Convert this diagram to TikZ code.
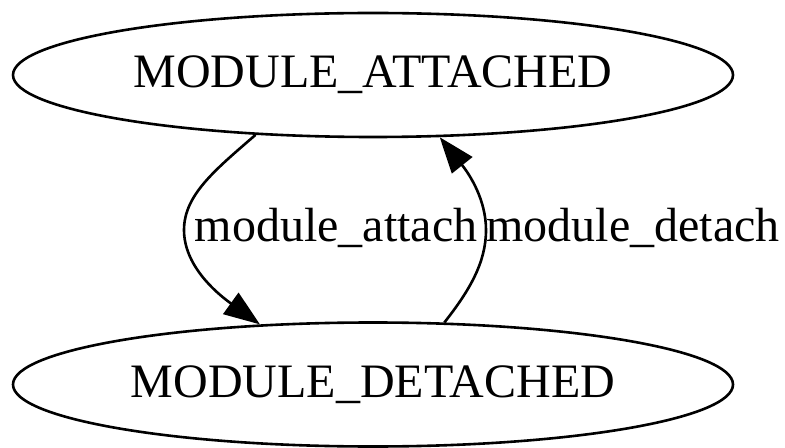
\documentclass[tikz,border=0pt]{standalone}
\usepackage{fontspec}
\setmainfont{Liberation Serif}
\usetikzlibrary{shapes.geometric,arrows.meta}
\begin{document}
\begin{tikzpicture}[x=0.5pt,y=-0.5pt,
  state/.style={draw,ellipse,line width=1.3pt,minimum width=360pt,minimum height=62pt,inner sep=0pt,font=\fontsize{24}{28}\selectfont},
  edge/.style={draw,line width=1.3pt,-{Triangle[length=18pt,width=13pt]}},
  elabel/.style={anchor=base,inner sep=0pt,font=\fontsize{24}{28}\selectfont}]
\useasboundingbox (0,0) rectangle (785,448);
\node[state] (A) at (373,75) {MODULE\_ATTACHED};
\node[state] (B) at (373,384.5) {MODULE\_DETACHED};
\coordinate (L) at (184,230);
\coordinate (R) at (486,230);
\draw[edge] (A.207.5) .. controls (215,170) and (184,195) .. (L)
  .. controls (184,265) and (215,292) .. (B.152.5);
\draw[edge] (B.41.3) .. controls (470,290) and (486,262) .. (R)
  .. controls (486,200) and (470,175) .. (A.317);
\node[elabel] (la) at (336,242) {module\_attach};
\node[elabel] (ld) at (633,242) {module\_detach};
\end{tikzpicture}
\end{document}
